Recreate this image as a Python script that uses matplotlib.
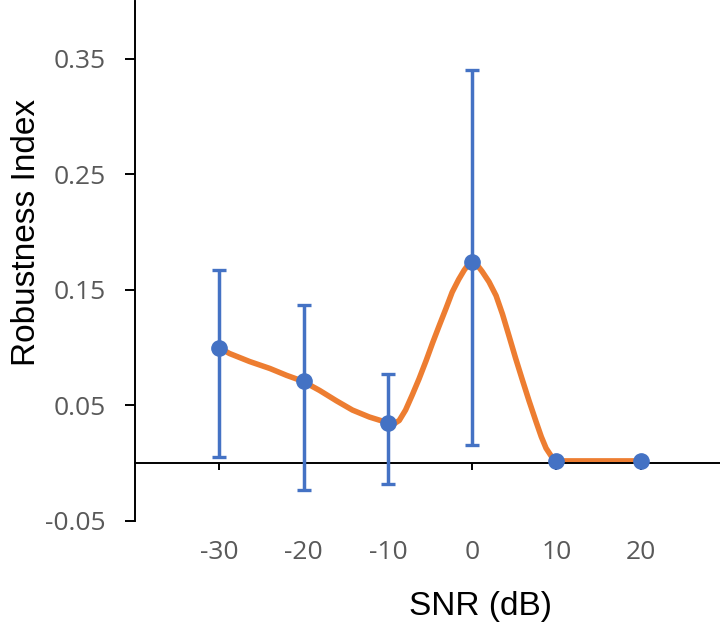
import numpy as np
import matplotlib
matplotlib.use("Agg")
import matplotlib.pyplot as plt

# measured points with asymmetric error bars
snr = [-30, -20, -10, 0, 10, 20]
robustness = [0.100, 0.071, 0.035, 0.174, 0.002, 0.002]
err_low = [0.095, 0.094, 0.053, 0.158, 0.0, 0.0]
err_high = [0.067, 0.066, 0.042, 0.166, 0.0, 0.0]

# smoothed trend line
trend_x = [-30, -28.8, -26.4, -24.0, -22.0, -20.1, -18.1, -16.1, -14.2, -12.2, -10,
           -9.3, -8.65, -7.9, -7.11, -6.3, -5.45, -4.7, -3.91, -3.1, -2.37, -1.6,
           -0.95, -0.45, 0, 0.55, 1.18, 2.0, 2.84, 3.6, 4.38, 5.15, 5.92, 6.75,
           7.58, 8.2, 8.77, 9.4, 10, 20]
trend_y = [0.100, 0.095, 0.088, 0.082, 0.076, 0.071, 0.063, 0.054, 0.046, 0.040, 0.035,
           0.034, 0.037, 0.046, 0.059, 0.073, 0.089, 0.104, 0.119, 0.134, 0.148, 0.159,
           0.167, 0.172, 0.174, 0.172, 0.166, 0.157, 0.145, 0.129, 0.110, 0.091, 0.073, 0.054,
           0.036, 0.023, 0.013, 0.006, 0.002, 0.002]

yticks = [-0.05, 0.05, 0.15, 0.25, 0.35]
xticks = [-30, -20, -10, 0, 10, 20]

BLUE = "#4472C4"
ORANGE = "#ED7D31"
GREY = "#595959"

fig = plt.figure(figsize=(7.2, 6.32), dpi=100)
ax = fig.add_axes([135 / 720, 111 / 632, 590 / 720, 520 / 632])

ax.plot(trend_x, trend_y, color=ORANGE, lw=4.0, solid_capstyle="round",
        solid_joinstyle="round", zorder=2)
ax.errorbar(snr, robustness, yerr=[err_low, err_high], fmt="o", color=BLUE,
            ms=11, elinewidth=2.5, capsize=4.8, capthick=2.4, zorder=3)

ax.set_xlim(-40, 30)
ax.set_ylim(-0.05, 0.4)

for side in ["top", "right"]:
    ax.spines[side].set_visible(False)
ax.spines["bottom"].set_position(("data", 0))
ax.spines["bottom"].set_linewidth(1.4)
ax.spines["left"].set_linewidth(1.4)

ax.set_yticks(yticks)
ax.set_yticklabels([f"{v:.2f}" for v in yticks], family="Open Sans",
                   fontsize=19, color=GREY)
ax.set_xticks(xticks)
ax.set_xticklabels([str(v) for v in xticks], family="Open Sans",
                   fontsize=19, color=GREY)
ax.tick_params(axis="y", direction="out", length=7, width=1.4, pad=14)
ax.tick_params(axis="x", direction="out", length=5, width=1.4, pad=50)

fig.text(27 / 720, 1 - 232 / 632, "Robustness Index", rotation=90,
         ha="center", va="center", family="Liberation Sans", fontsize=24)
fig.text(481 / 720, 1 - 607 / 632, "SNR (dB)", ha="center", va="center",
         family="Liberation Sans", fontsize=24)

fig.savefig("out.png", dpi=100)
